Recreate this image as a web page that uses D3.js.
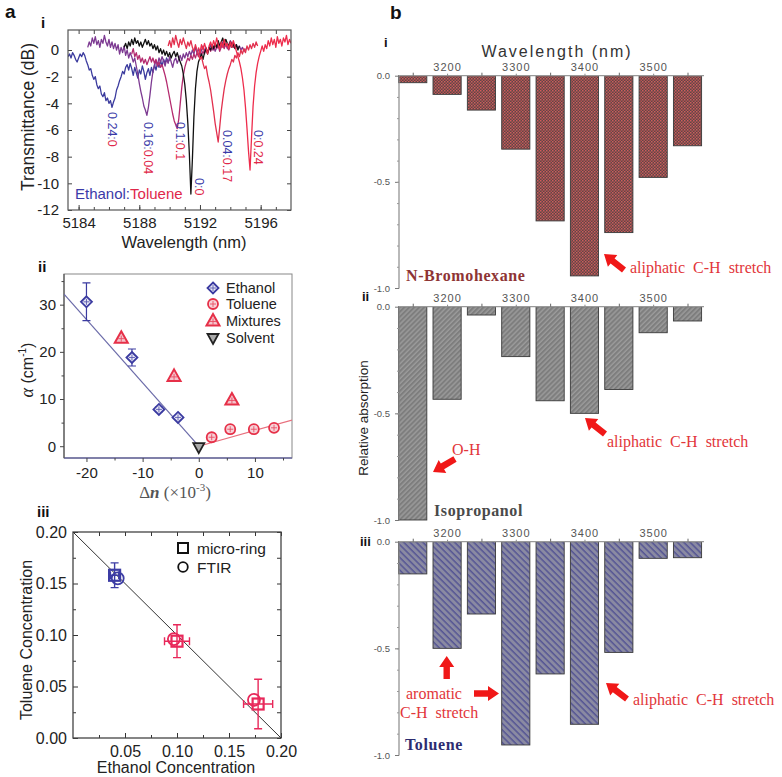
<!DOCTYPE html>
<html><head><meta charset="utf-8">
<script src="https://cdn.jsdelivr.net/npm/d3@7"></script>
<style>body{margin:0;background:#fff} svg{display:block}</style>
</head><body>
<svg id="fig" width="782" height="777"></svg>
<script>
// ===================== DATA =====================
// a-i : transmission spectra (dB), sampled every 0.1 nm from each start wavelength
const specStep = 0.1;
const blueStart = 5183.3;
const blueDB = [-0.5,-0.3,-0.6,-0.2,-0.4,-0.7,-0.9,-0.6,-0.3,-0.5,
 -0.2,-0.4,-0.8,-1.1,-1.5,-1.4,-1.9,-2.2,-2.0,-2.6,
 -2.9,-2.7,-3.3,-3.5,-3.2,-3.8,-3.6,-4.0,-3.8,-4.3,
 -3.9,-3.6,-3.0,-2.7,-2.3,-2.0,-1.6,-1.8,-1.3,-1.1,
 -1.5,-1.0,-1.4,-1.9,-1.3,-1.7,-2.1,-1.5,-1.8,-1.2,
 -1.6,-2.2,-1.7,-1.4,-1.9,-1.3,-1.7,-1.1,-1.5,-1.0,
 -1.3,-0.8,-1.2,-0.7,-1.0,-0.6,-0.9,-0.7];
const purpleStart = 5184.6;
const purpleDB = [0.2,0.6,0.3,0.9,0.5,1.0,0.4,0.7,0.2,0.8,
 0.5,1.1,0.6,0.3,0.8,0.2,0.6,0.1,0.5,0.0,
 0.4,-0.3,0.2,-0.2,0.3,-0.4,0.0,-0.6,-0.2,-0.5,
 -0.9,-0.6,-1.2,-1.8,-2.5,-3.1,-3.6,-4.2,-4.5,-4.9,
 -4.3,-3.4,-2.4,-1.6,-1.2,-0.8,-1.1,-0.6,-0.9,-0.5,
 -0.8,-1.2,-0.7,-1.0,-0.5,-0.9,-1.3,-0.8,-0.6,-1.0,
 -0.7,-0.4,-0.8,-0.3,-0.6,-0.2,-0.5,-0.1,-0.4,0.0,
 -0.3,0.2,-0.2,0.1,-0.4,0.0,0.3,-0.1,0.2,-0.2,
 0.1,0.4,0.0,0.3,-0.1,0.2,0.5,0.1,0.3,0.6,
 0.2,0.5,0.1,0.4,0.7,0.3,0.5,0.2,0.4,0.1,
 0.3,0.0,0.2,-0.1,0.1];
const magentaStart = 5187.5;
const magentaDB = [-0.3,0.1,-0.5,-0.2,-0.7,-0.4,-0.9,-0.6,-1.0,-0.7,
 -1.1,-0.8,-0.5,-0.9,-0.6,-1.0,-0.7,-1.2,-0.9,-1.3,
 -1.1,-1.5,-1.9,-2.4,-3.0,-3.6,-4.2,-4.8,-5.3,-5.6,
 -5.9,-5.2,-4.0,-2.8,-1.9,-1.3,-0.9,-0.6,-0.8,-0.4,
 -0.7,-0.3,-0.6,-0.2,-0.5,0.0,-0.4,-0.1,-0.3,0.1,
 -0.2,0.2,-0.1,0.3,0.0,0.4,0.1,0.3,-0.1,0.2,
 0.4,0.1,0.5,0.2,0.0,0.3,0.6,0.2,0.4,0.1];
const blackStart = 5187.0;
const blackDB = [0.2,0.5,0.1,0.6,0.3,0.8,0.4,0.9,0.5,0.7,
 0.3,0.6,0.2,0.5,0.8,0.4,0.7,0.3,0.5,0.1,
 0.4,0.0,0.3,-0.2,0.1,-0.3,0.0,-0.4,-0.1,-0.5,
 -0.2,-0.6,-0.3,-0.1,-0.5,-0.2,-0.6,-0.9,-1.2,-1.8,
 -2.6,-3.8,-5.5,-7.8,-10.8,-8.2,-5.0,-2.9,-1.6,-0.9,
 -0.6,-0.3,-0.7,-0.2,0.1,-0.3,0.2,0.0,0.4,0.1,
 0.5,0.2,0.7,0.3,0.6,0.9,0.4,0.8,0.5,0.3,
 0.6,0.2,0.5,0.1,0.4,0.0,0.3];
const red1Start = 5189.9;
const red1DB = [0.3,0.7,0.2,0.9,0.4,1.1,0.6,0.2,0.8,0.4,
 0.9,0.5,0.1,0.6,0.3,0.7,0.2,-0.1,0.4,0.0,
 -0.3,-0.7,-0.5,-1.0,-1.4,-1.2,-1.9,-2.4,-3.0,-3.8,
 -4.6,-5.5,-6.2,-6.9,-5.8,-4.6,-3.7,-2.9,-2.3,-1.8,
 -1.4,-1.1,-0.7,-0.9,-0.4,-0.6,-0.2,-0.5,0.0,-0.3,
 0.1,-0.2,0.3,0.0,0.4,0.1,0.5,0.2,0.6,0.3];
const red2Start = 5191.9;
const red2DB = [0.2,-0.2,0.4,0.0,0.5,0.1,-0.3,0.3,0.6,0.2,
 0.7,0.3,0.9,0.4,0.1,0.6,0.2,0.8,0.3,0.5,
 0.1,0.6,0.2,0.7,0.3,-0.1,-0.5,-0.9,-1.4,-2.1,
 -3.0,-4.3,-5.9,-7.6,-9.0,-6.5,-4.2,-2.7,-1.7,-1.0,
 -0.5,-0.1,0.3,-0.1,0.4,0.1,0.7,0.3,0.9,0.4,
 0.8,0.2,1.0,0.5,0.8,0.3,0.9,0.6,1.1,0.4,
 0.8,0.5];
const specEthanol = ["0.24:", "0.16:", "0.1:", "0:", "0.04:", "0:"];
const specToluene = ["0", "0.04", "0.1", "0", "0.17", "0.24"];
const specXTicks = [5184, 5188, 5192, 5196];
const specYTicks = [-12, -10, -8, -6, -4, -2, 0];

// a-ii : absorption coefficient vs index difference
const ethDn = [-20, -11.9, -7.1, -3.7];
const ethAlpha = [30.6, 18.8, 7.8, 6.1];
const ethErr = [4.0, 1.8, 0.5, 0.4];
const tolDn = [2.3, 5.6, 9.8, 13.4];
const tolAlpha = [1.9, 3.6, 3.6, 3.9];
const mixDn = [-13.8, -4.4, 5.9];
const mixAlpha = [22.9, 14.8, 9.8];
const solDn = [0];
const solAlpha = [-0.2];
const ethFitSlope = -1.344;
const tolFitSlope = 0.334;
const alphaXTicks = [-20, -10, 0, 10];
const alphaYTicks = [0, 10, 20, 30];
const alphaLegend = ["Ethanol", "Toluene", "Mixtures", "Solvent"];

// a-iii : concentrations
const ringEth = [0.040, 0.100, 0.178];
const ringTol = [0.158, 0.094, 0.033];
const ringEthErr = [0.004, 0.012, 0.014];
const ringTolErr = [0.012, 0.016, 0.024];
const ftirEth = [0.043, 0.097, 0.174];
const ftirTol = [0.155, 0.096, 0.037];
const concXTicks = [0.05, 0.10, 0.15, 0.20];
const concYTicks = [0.00, 0.05, 0.10, 0.15, 0.20];

// b : relative absorption bars
const bandCenters = [3150, 3200, 3250, 3300, 3350, 3400, 3450, 3500, 3550];
const bromoAbs = [-0.033, -0.088, -0.162, -0.346, -0.684, -0.943, -0.739, -0.479, -0.330];
const isoAbs   = [-1.000, -0.434, -0.039, -0.234, -0.441, -0.500, -0.388, -0.122, -0.067];
const tolAbs   = [-0.151, -0.500, -0.339, -0.953, -0.620, -0.856, -0.519, -0.078, -0.075];
const bandXTicks = [3200, 3300, 3400, 3500];
const absYTicks = [0, -0.5, -1.0];

// ===================== DRAWING =====================
const SANS = "'Liberation Sans', Arial, Helvetica, sans-serif";
const SERIF = "'Liberation Serif', 'Times New Roman', serif";
const svg = d3.select("#fig");
const defs = svg.append("defs");

function styleAxis(g, size, tickColor, textColor) {
  g.attr("font-family", SANS).attr("font-size", size);
  g.select(".domain").remove();
  g.selectAll(".tick line").attr("stroke", tickColor).attr("stroke-width", 1);
  g.selectAll(".tick text").attr("fill", textColor || "#222");
  return g;
}
function rng(a, b, s) { const r = []; for (let v = a; v <= b + 1e-9; v += s) r.push(+v.toFixed(4)); return r; }
function txt(g, x, y, s, o) {
  o = o || {};
  const t = g.append("text").attr("x", x).attr("y", y).text(s)
    .attr("font-family", o.family || SANS).attr("font-size", o.size || 14)
    .attr("fill", o.fill || "#222");
  if (o.weight) t.attr("font-weight", o.weight);
  if (o.anchor) t.attr("text-anchor", o.anchor);
  if (o.ls) t.attr("letter-spacing", o.ls);
  if (o.ws) t.attr("word-spacing", o.ws);
  if (o.rot) t.attr("transform", `rotate(${o.rot},${x},${y})`);
  return t;
}

// panel letters
txt(svg, 5, 18, "a", {size: 19, weight: "bold", fill: "#111"});
txt(svg, 390, 19, "b", {size: 19, weight: "bold", fill: "#111"});

// ---------- a-i ----------
(function () {
  const L = 68, R = 291, T = 30, B = 210;
  const x = d3.scaleLinear().domain([5183.3, 5198]).range([L, R]);
  const y = d3.scaleLinear().domain([-12, 1.5]).range([B, T]);
  const g = svg.append("g");
  defs.append("clipPath").attr("id", "clipAi").append("rect").attr("x", L).attr("y", T).attr("width", R - L).attr("height", B - T);
  const series = [
    {start: blueStart, v: blueDB, c: "#3b3b9e"},
    {start: purpleStart, v: purpleDB, c: "#7d3a92"},
    {start: magentaStart, v: magentaDB, c: "#b42a6e"},
    {start: blackStart, v: blackDB, c: "#111111"},
    {start: red1Start, v: red1DB, c: "#e2304e"},
    {start: red2Start, v: red2DB, c: "#ee2c4c"}
  ];
  const line = d3.line().x(d => x(d[0])).y(d => y(d[1]));
  series.forEach(s => {
    const pts = s.v.map((v, i) => [s.start + i * specStep, v]);
    g.append("path").attr("clip-path", "url(#clipAi)").attr("d", line(pts))
      .attr("fill", "none").attr("stroke", s.c).attr("stroke-width", 1.3).attr("stroke-linejoin", "round");
  });
  const minorX = rng(5184, 5197, 1);
  styleAxis(g.append("g").attr("transform", `translate(0,${B})`).call(d3.axisBottom(x).tickValues(specXTicks).tickSize(-5).tickPadding(7).tickFormat(d => d)), 15, "#444");
  styleAxis(g.append("g").attr("transform", `translate(0,${B})`).call(d3.axisBottom(x).tickValues(minorX).tickSize(-3).tickFormat("")), 15, "#444");
  styleAxis(g.append("g").attr("transform", `translate(0,${T})`).call(d3.axisTop(x).tickValues(minorX).tickSize(-4).tickFormat("")), 15, "#444");
  styleAxis(g.append("g").attr("transform", `translate(${L},0)`).call(d3.axisLeft(y).tickValues(specYTicks).tickSize(-4).tickPadding(9).tickFormat(d => d)), 15, "#444");
  styleAxis(g.append("g").attr("transform", `translate(${R},0)`).call(d3.axisRight(y).tickValues(specYTicks).tickSize(-4).tickFormat("")), 15, "#444");
  g.append("rect").attr("x", L).attr("y", T).attr("width", R - L).attr("height", B - T).attr("fill", "none").attr("stroke", "#555").attr("stroke-width", 1.2);
  const lab = [[112, 112], [148, 122], [180, 122], [199, 178], [227, 130], [258, 130]];
  specEthanol.forEach((e, i) => {
    const t = g.append("text").attr("transform", `translate(${lab[i][0]},${lab[i][1]}) rotate(90)`)
      .attr("font-family", SANS).attr("font-size", 12.5).attr("dominant-baseline", "central");
    t.append("tspan").attr("fill", "#3a3aa8").text(e);
    t.append("tspan").attr("fill", "#e0284a").text(specToluene[i]);
  });
  const leg = g.append("text").attr("x", 75).attr("y", 199).attr("font-family", SANS).attr("font-size", 15);
  leg.append("tspan").attr("fill", "#3a3aa8").text("Ethanol:");
  leg.append("tspan").attr("fill", "#e0284a").text("Toluene");
  txt(svg, 34, 117, "Transmittance (dB)", {size: 17.5, anchor: "middle", rot: -90});
  txt(svg, 184, 248, "Wavelength (nm)", {size: 16.5, anchor: "middle"});
  txt(svg, 41, 28, "i", {size: 15, weight: "bold", fill: "#111"});
})();

// ---------- a-ii ----------
(function () {
  const L = 64, R = 292, T = 274, B = 458;
  const x = d3.scaleLinear().domain([-24, 16.6]).range([L, R]);
  const y = d3.scaleLinear().domain([-2.5, 36.5]).range([B, T]);
  const g = svg.append("g");
  defs.append("clipPath").attr("id", "clipAii").append("rect").attr("x", L).attr("y", T).attr("width", R - L).attr("height", B - T);
  g.append("rect").attr("x", L).attr("y", T).attr("width", R - L).attr("height", B - T).attr("fill", "none").attr("stroke", "#888").attr("stroke-width", 1);
  g.append("line").attr("x1", L).attr("x2", R).attr("y1", B).attr("y2", B).attr("stroke", "#6a6aa0").attr("stroke-width", 1.4);
  g.append("line").attr("x1", L).attr("x2", L).attr("y1", T).attr("y2", B).attr("stroke", "#555").attr("stroke-width", 1.2);
  styleAxis(g.append("g").attr("transform", `translate(0,${B})`).call(d3.axisBottom(x).tickValues(alphaXTicks).tickSize(4).tickPadding(5).tickFormat(d => d)), 15, "#444");
  styleAxis(g.append("g").attr("transform", `translate(0,${B})`).call(d3.axisBottom(x).tickValues([-15, -5, 5, 15]).tickSize(2.5).tickFormat("")), 15, "#444");
  styleAxis(g.append("g").attr("transform", `translate(${L},0)`).call(d3.axisLeft(y).tickValues(alphaYTicks).tickSize(4).tickPadding(4).tickFormat(d => d)), 15, "#444");
  styleAxis(g.append("g").attr("transform", `translate(${L},0)`).call(d3.axisLeft(y).tickValues([5, 15, 25, 35]).tickSize(2.5).tickFormat("")), 15, "#444");
  const xmin = x.domain()[0], xmax = x.domain()[1];
  g.append("line").attr("clip-path", "url(#clipAii)").attr("x1", x(xmin)).attr("y1", y(ethFitSlope * xmin)).attr("x2", x(0)).attr("y2", y(0))
    .attr("stroke", "#6a6aa8").attr("stroke-width", 1.2);
  g.append("line").attr("clip-path", "url(#clipAii)").attr("x1", x(0)).attr("y1", y(0)).attr("x2", x(xmax)).attr("y2", y(tolFitSlope * xmax))
    .attr("stroke", "#e8707e").attr("stroke-width", 1.2);
  const BLUE = "#3a3aa0", RED = "#e63048";
  function cross(gg, cx, cy, c) {
    gg.append("path").attr("d", `M${cx - 3},${cy}H${cx + 3}M${cx},${cy - 3}V${cy + 3}`).attr("stroke", c).attr("stroke-width", 0.9).attr("opacity", 0.8);
  }
  function diamond(gg, cx, cy) {
    gg.append("path").attr("d", `M${cx},${cy - 5.5}L${cx + 5.5},${cy}L${cx},${cy + 5.5}L${cx - 5.5},${cy}Z`).attr("fill", "#e6e6f4").attr("stroke", BLUE).attr("stroke-width", 1.8);
    cross(gg, cx, cy, BLUE);
  }
  function circ(gg, cx, cy) {
    gg.append("circle").attr("cx", cx).attr("cy", cy).attr("r", 5).attr("fill", "#f6d2d8").attr("stroke", RED).attr("stroke-width", 1.8);
    cross(gg, cx, cy, RED);
  }
  function triUp(gg, cx, cy) {
    gg.append("path").attr("d", `M${cx},${cy - 7}L${cx + 6.5},${cy + 4.5}L${cx - 6.5},${cy + 4.5}Z`).attr("fill", "#f4c4cc").attr("stroke", RED).attr("stroke-width", 2);
    cross(gg, cx, cy + 0.5, RED);
  }
  function triDown(gg, cx, cy, c) {
    gg.append("path").attr("d", `M${cx},${cy + 6}L${cx + 5.5},${cy - 4}L${cx - 5.5},${cy - 4}Z`).attr("fill", "#aaa").attr("stroke", c || "#222").attr("stroke-width", 1.8);
  }
  ethDn.forEach((d, i) => {
    const cx = x(d), y1 = y(ethAlpha[i] - ethErr[i]), y2 = y(ethAlpha[i] + ethErr[i]);
    g.append("path").attr("d", `M${cx},${y1}V${y2}M${cx - 4},${y1}H${cx + 4}M${cx - 4},${y2}H${cx + 4}`).attr("stroke", BLUE).attr("stroke-width", 1.2).attr("fill", "none");
  });
  ethDn.forEach((d, i) => diamond(g, x(d), y(ethAlpha[i])));
  tolDn.forEach((d, i) => circ(g, x(d), y(tolAlpha[i])));
  mixDn.forEach((d, i) => triUp(g, x(d), y(mixAlpha[i])));
  solDn.forEach((d, i) => triDown(g, x(d), y(solAlpha[i])));
  const ly = [288, 304, 321, 338];
  diamond(g, 213, ly[0]); circ(g, 213, ly[1]); triUp(g, 213, ly[2]); triDown(g, 213, ly[3]);
  alphaLegend.forEach((s, i) => txt(g, 226, ly[i] + 5, s, {size: 14.5}));
  const xl = g.append("text").attr("x", 175).attr("y", 498).attr("text-anchor", "middle").attr("font-family", SERIF).attr("font-size", 17).attr("fill", "#555");
  xl.append("tspan").text("Δ");
  xl.append("tspan").attr("font-style", "italic").attr("font-weight", "bold").text("n");
  xl.append("tspan").text(" (×10");
  xl.append("tspan").attr("font-size", 11).attr("dy", -7).text("-3");
  xl.append("tspan").attr("dy", 7).text(")");
  const yl = g.append("text").attr("transform", "translate(33,370) rotate(-90)").attr("text-anchor", "middle").attr("font-family", SANS).attr("font-size", 16).attr("fill", "#222");
  yl.append("tspan").attr("font-family", SERIF).attr("font-style", "italic").attr("font-size", 18).text("α");
  yl.append("tspan").text(" (cm");
  yl.append("tspan").attr("font-size", 10).attr("dy", -7).text("-1");
  yl.append("tspan").attr("dy", 7).text(")");
  txt(svg, 38, 272, "ii", {size: 15, weight: "bold", fill: "#111"});
})();

// ---------- a-iii ----------
(function () {
  const L = 73, R = 281, T = 532, B = 738;
  const x = d3.scaleLinear().domain([0, 0.2]).range([L, R]);
  const y = d3.scaleLinear().domain([0, 0.2]).range([B, T]);
  const g = svg.append("g");
  const minor = rng(0.025, 0.175, 0.05);
  const f2 = d => d.toFixed(2);
  styleAxis(g.append("g").attr("transform", `translate(0,${B})`).call(d3.axisBottom(x).tickValues(concXTicks).tickSize(-5).tickPadding(8).tickFormat(f2)), 16, "#333");
  styleAxis(g.append("g").attr("transform", `translate(0,${B})`).call(d3.axisBottom(x).tickValues(minor).tickSize(-3).tickFormat("")), 16, "#333");
  styleAxis(g.append("g").attr("transform", `translate(0,${T})`).call(d3.axisTop(x).tickValues(concXTicks.concat(minor)).tickSize(-4).tickFormat("")), 16, "#333");
  styleAxis(g.append("g").attr("transform", `translate(${L},0)`).call(d3.axisLeft(y).tickValues(concYTicks).tickSize(-5).tickPadding(6).tickFormat(f2)), 16, "#333");
  styleAxis(g.append("g").attr("transform", `translate(${L},0)`).call(d3.axisLeft(y).tickValues(minor).tickSize(-3).tickFormat("")), 16, "#333");
  styleAxis(g.append("g").attr("transform", `translate(${R},0)`).call(d3.axisRight(y).tickValues(concYTicks.concat(minor)).tickSize(-4).tickFormat("")), 16, "#333");
  g.append("rect").attr("x", L).attr("y", T).attr("width", R - L).attr("height", B - T).attr("fill", "none").attr("stroke", "#444").attr("stroke-width", 1.3);
  g.append("line").attr("x1", x(0)).attr("y1", y(0.2)).attr("x2", x(0.2)).attr("y2", y(0)).attr("stroke", "#333").attr("stroke-width", 1);
  const cols = ["#3c3ca4", "#e8285a", "#e8285a"];
  ringEth.forEach((d, i) => {
    const c = cols[i], cx = x(d), cy = y(ringTol[i]);
    const x1 = x(d - ringEthErr[i]), x2 = x(d + ringEthErr[i]), y1 = y(ringTol[i] - ringTolErr[i]), y2 = y(ringTol[i] + ringTolErr[i]);
    g.append("path").attr("d", `M${cx},${y1}V${y2}M${cx - 4},${y1}H${cx + 4}M${cx - 4},${y2}H${cx + 4}M${x1},${cy}H${x2}M${x1},${cy - 4}V${cy + 4}M${x2},${cy - 4}V${cy + 4}`)
      .attr("stroke", c).attr("stroke-width", 1.4).attr("fill", "none");
    g.append("circle").attr("cx", x(ftirEth[i])).attr("cy", y(ftirTol[i])).attr("r", 6).attr("fill", "none").attr("stroke", c).attr("stroke-width", 1.8);
    g.append("rect").attr("x", cx - 5.5).attr("y", cy - 5.5).attr("width", 11).attr("height", 11).attr("fill", "none").attr("stroke", c).attr("stroke-width", 2.2);
  });
  g.append("rect").attr("x", 178).attr("y", 543).attr("width", 10).attr("height", 10).attr("fill", "none").attr("stroke", "#111").attr("stroke-width", 2);
  g.append("circle").attr("cx", 183).attr("cy", 567).attr("r", 4.8).attr("fill", "none").attr("stroke", "#111").attr("stroke-width", 1.8);
  txt(g, 197, 554, "micro-ring", {size: 15.5});
  txt(g, 197, 573, "FTIR", {size: 15.5});
  txt(svg, 32, 640, "Toluene Concentration", {size: 16, anchor: "middle", rot: -90});
  txt(svg, 176, 773, "Ethanol Concentration", {size: 16, anchor: "middle"});
  txt(svg, 37, 517, "iii", {size: 15, weight: "bold", fill: "#111"});
})();

// ---------- b ----------
(function () {
  const pA = defs.append("pattern").attr("id", "patBromo").attr("patternUnits", "userSpaceOnUse").attr("width", 3).attr("height", 3);
  pA.append("rect").attr("width", 3).attr("height", 3).attr("fill", "#5e4747");
  pA.append("rect").attr("width", 1.5).attr("height", 1.5).attr("fill", "#cf5c5c");
  pA.append("rect").attr("x", 1.5).attr("y", 1.5).attr("width", 1.5).attr("height", 1.5).attr("fill", "#b95252");
  const pB = defs.append("pattern").attr("id", "patIso").attr("patternUnits", "userSpaceOnUse").attr("width", 3.5).attr("height", 3.5).attr("patternTransform", "rotate(45)");
  pB.append("rect").attr("width", 3.5).attr("height", 3.5).attr("fill", "#7e7e7e");
  pB.append("line").attr("x1", 1).attr("x2", 1).attr("y1", 0).attr("y2", 3.5).attr("stroke", "#a4a4a4").attr("stroke-width", 1.1);
  const pC = defs.append("pattern").attr("id", "patTol").attr("patternUnits", "userSpaceOnUse").attr("width", 4.5).attr("height", 4.5).attr("patternTransform", "rotate(-45)");
  pC.append("rect").attr("width", 4.5).attr("height", 4.5).attr("fill", "#8a8aa2");
  pC.append("line").attr("x1", 1).attr("x2", 1).attr("y1", 0).attr("y2", 4.5).attr("stroke", "#42428e").attr("stroke-width", 1.1);

  const L = 399, R = 704;
  const x = d3.scaleLinear().domain([3130, 3574]).range([L, R]);
  const barW = x(3130 + 41) - x(3130);
  const subs = [
    {vals: bromoAbs, top: 75.7, bot: 288, pat: "url(#patBromo)"},
    {vals: isoAbs, top: 306.7, bot: 520, pat: "url(#patIso)"},
    {vals: tolAbs, top: 541.7, bot: 755, pat: "url(#patTol)"}
  ];
  subs.forEach(s => {
    const y = d3.scaleLinear().domain([-1, 0]).range([s.bot, s.top]);
    const g = svg.append("g");
    g.selectAll("rect.bar").data(bandCenters).enter().append("rect")
      .attr("x", d => x(d) - barW / 2).attr("width", barW)
      .attr("y", y(0)).attr("height", (d, i) => y(s.vals[i]) - y(0))
      .attr("fill", s.pat).attr("stroke", "#3a3a3a").attr("stroke-width", 0.9);
    g.append("line").attr("x1", L).attr("x2", L).attr("y1", s.top).attr("y2", s.bot + 0.5).attr("stroke", "#8a8a8a").attr("stroke-width", 1.2);
    styleAxis(g.append("g").attr("transform", `translate(${L},0)`).call(d3.axisLeft(y).tickValues(absYTicks).tickSize(4).tickPadding(5).tickFormat(d => d.toFixed(1))), 9.5, "#777", "#555");
    styleAxis(g.append("g").attr("transform", `translate(${L},0)`).call(d3.axisLeft(y).tickValues(rng(-0.9, -0.1, 0.1)).tickSize(2).tickFormat("")), 10, "#999");
    g.append("line").attr("x1", L).attr("x2", R).attr("y1", s.top).attr("y2", s.top).attr("stroke", "#9a9a9a").attr("stroke-width", 1.3);
    const ax = styleAxis(g.append("g").attr("transform", `translate(0,${s.top})`).call(d3.axisTop(x).tickValues(bandXTicks).tickSize(2).tickPadding(3).tickFormat(d => d)), 11, "#888", "#555");
    ax.attr("letter-spacing", 1);
    styleAxis(g.append("g").attr("transform", `translate(0,${s.top})`).call(d3.axisTop(x).tickValues(rng(3150, 3550, 100)).tickSize(3).tickFormat("")), 11, "#666");
  });

  function arrow(x1, y1, x2, y2) {
    const dx = x2 - x1, dy = y2 - y1, Ln = Math.hypot(dx, dy), ux = dx / Ln, uy = dy / Ln, px = -uy, py = ux;
    const hl = 11, hw = 7.5, sw = 3.2;
    const bx = x2 - ux * hl, by = y2 - uy * hl;
    const pts = [[x1 + px * sw, y1 + py * sw], [bx + px * sw, by + py * sw], [bx + px * hw, by + py * hw], [x2, y2],
      [bx - px * hw, by - py * hw], [bx - px * sw, by - py * sw], [x1 - px * sw, y1 - py * sw]];
    svg.append("polygon").attr("points", pts.map(p => p.map(v => v.toFixed(1)).join(",")).join(" ")).attr("fill", "#f01818");
  }
  const RED = "#e2363a";
  const so = {family: SERIF, size: 16, fill: RED, ws: 4};
  arrow(624, 270, 604, 254);
  txt(svg, 630, 273, "aliphatic C-H stretch", so);
  txt(svg, 406, 281, "N-Bromohexane", {family: SERIF, size: 16, weight: "bold", fill: "#8e3434", ls: 0.6});
  arrow(455, 459, 433, 472);
  txt(svg, 452, 455, "O-H", so);
  arrow(605, 434, 585, 418);
  txt(svg, 607, 447, "aliphatic C-H stretch", so);
  txt(svg, 434, 516, "Isopropanol", {family: SERIF, size: 16, weight: "bold", fill: "#4a4a4a", ls: 0.6});
  arrow(446.7, 679, 446.7, 656);
  arrow(474, 693.5, 499, 693.5);
  txt(svg, 406, 699, "aromatic", so);
  txt(svg, 400, 718, "C-H stretch", so);
  arrow(627, 699, 606, 683);
  txt(svg, 633, 705, "aliphatic C-H stretch", so);
  txt(svg, 405, 750, "Toluene", {family: SERIF, size: 16, weight: "bold", fill: "#2c2c70", ls: 0.6});

  txt(svg, 557, 57, "Wavelength (nm)", {size: 16, anchor: "middle", fill: "#333", ls: 2});
  txt(svg, 368, 418, "Relative absorption", {size: 13.5, anchor: "middle", rot: -90});
  txt(svg, 384, 47, "i", {size: 13, weight: "bold", fill: "#111"});
  txt(svg, 362, 301, "ii", {size: 13, weight: "bold", fill: "#111"});
  txt(svg, 360, 546, "iii", {size: 13, weight: "bold", fill: "#111"});
})();
</script>
</body></html>
